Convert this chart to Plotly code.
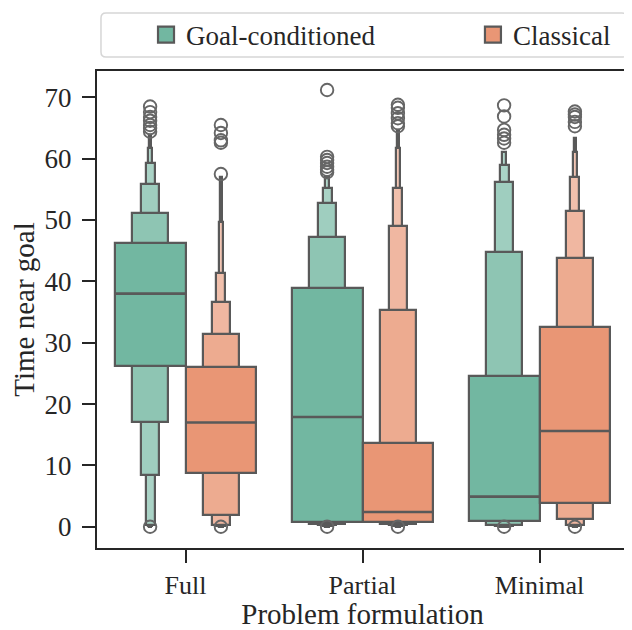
import plotly.graph_objects as go

categories = ["Full", "Partial", "Minimal"]
hues = ["Goal-conditioned", "Classical"]

# letter-value levels (outermost box first)
full_goal_lo = [26.2, 17.1, 8.4, 0.3, 0.1, 0.0]
full_goal_hi = [46.2, 51.2, 55.9, 59.3, 61.7, 63.9]
full_goal_med = 38.0
full_goal_out = [68.5, 67.6, 66.8, 66.2, 65.5, 65.0, 64.4, 0.0]

full_cls_lo = [8.8, 1.9, 0.3, 0.1, 0.0, 0.0]
full_cls_hi = [26.0, 31.5, 36.7, 41.4, 49.7, 57.1]
full_cls_med = 17.0
full_cls_out = [65.5, 64.2, 63.0, 62.6, 57.5, 0.0]

part_goal_lo = [0.7, 0.4, 0.2, 0.1, 0.0]
part_goal_hi = [38.9, 47.2, 52.7, 55.3, 57.0]
part_goal_med = 17.9
part_goal_out = [71.2, 60.3, 59.8, 59.3, 58.7, 58.2, 57.8, 0.0]

part_cls_lo = [0.8, 0.4, 0.2, 0.1, 0.0, 0.0]
part_cls_hi = [13.6, 35.4, 49.1, 55.3, 61.7, 64.7]
part_cls_med = 2.4
part_cls_out = [68.8, 68.3, 67.4, 66.6, 65.8, 65.3, 0.0]

min_goal_lo = [1.0, 0.3, 0.1, 0.0, 0.0]
min_goal_hi = [24.6, 44.8, 56.2, 59.0, 61.1]
min_goal_med = 4.9
min_goal_out = [68.7, 66.9, 64.7, 63.9, 63.3, 62.6, 0.0]

min_cls_lo = [3.8, 1.2, 0.3, 0.1, 0.0, 0.0]
min_cls_hi = [32.6, 43.8, 51.5, 57.1, 61.1, 63.3]
min_cls_med = 15.6
min_cls_out = [67.7, 67.2, 66.8, 66.0, 65.3, 0.0]

groups = [
    (0, 0, full_goal_lo, full_goal_hi, full_goal_med, full_goal_out),
    (0, 1, full_cls_lo, full_cls_hi, full_cls_med, full_cls_out),
    (1, 0, part_goal_lo, part_goal_hi, part_goal_med, part_goal_out),
    (1, 1, part_cls_lo, part_cls_hi, part_cls_med, part_cls_out),
    (2, 0, min_goal_lo, min_goal_hi, min_goal_med, min_goal_out),
    (2, 1, min_cls_lo, min_cls_hi, min_cls_med, min_cls_out),
]

main_rgb = [(114, 183, 161), (233, 150, 117)]
light_t = [0.0, 0.2, 0.32, 0.4, 0.46, 0.5]
edge = "#595959"
offsets = [-0.2, 0.2]
full_w = 0.4

def level_color(h, k):
    t = light_t[min(k, len(light_t) - 1)]
    r, g, b = main_rgb[h]
    return "rgb(%d,%d,%d)" % (r + (255 - r) * t, g + (255 - g) * t, b + (255 - b) * t)

fig = go.Figure()
for ci, h, lo, hi, med, out in groups:
    pos = ci + offsets[h]
    n = len(lo)
    for k in range(n - 1, -1, -1):
        w = full_w * 0.5 ** k
        fig.add_trace(go.Bar(
            x=[pos], base=[lo[k]], y=[hi[k] - lo[k]], width=[w],
            marker=dict(color=level_color(h, k), line=dict(color=edge, width=2.2)),
            name=hues[h], showlegend=False, hoverinfo="skip"))
    fig.add_trace(go.Scatter(
        x=[pos - full_w / 2, pos + full_w / 2], y=[med, med], mode="lines",
        line=dict(color=edge, width=2.6), showlegend=False, hoverinfo="skip"))
    fig.add_trace(go.Scatter(
        x=[pos] * len(out), y=out, mode="markers",
        marker=dict(symbol="circle-open", size=12.5, color="#666666", line=dict(width=1.9)),
        showlegend=False, hoverinfo="skip"))

# legend entries (one legend per hue, sharing one frame)
for h, lg in enumerate(["legend", "legend2"]):
    fig.add_trace(go.Scatter(
        x=[None], y=[None], mode="markers", name=hues[h], legend=lg,
        marker=dict(symbol="square", size=18, color=level_color(h, 0),
                    line=dict(color=edge, width=2.2)),
        showlegend=True, hoverinfo="skip"))

font = "Liberation Serif"
leg_common = dict(orientation="h", y=1.0755, xanchor="left", yanchor="middle",
                  borderwidth=0, bgcolor="rgba(0,0,0,0)", font=dict(size=27))

# rounded legend frame in paper coordinates
x0, x1, y0, y1 = 0.0075, 0.998, 1.0294, 1.1216
rx, ry = 0.0094, 0.0105
frame = (f"M{x0+rx},{y1} L{x1-rx},{y1} Q{x1},{y1} {x1},{y1-ry} L{x1},{y0+ry} "
         f"Q{x1},{y0} {x1-rx},{y0} L{x0+rx},{y0} Q{x0},{y0} {x0},{y0+ry} "
         f"L{x0},{y1-ry} Q{x0},{y1} {x0+rx},{y1} Z")

fig.update_layout(
    width=624, height=622,
    margin=dict(l=89, r=4, t=63, b=82, autoexpand=False),
    paper_bgcolor="white", plot_bgcolor="white",
    barmode="overlay", bargap=0,
    font=dict(family=font, size=24, color="#262626"),
    legend=dict(x=0.0923, **leg_common),
    legend2=dict(x=0.708, **leg_common),
    shapes=[dict(type="path", xref="paper", yref="paper", path=frame,
                 line=dict(color="#d6d6d6", width=1.5), fillcolor="white", layer="below")],
)
fig.update_xaxes(
    range=[-0.5, 2.5], tickmode="array", tickvals=[0, 1, 2], ticktext=categories,
    showline=True, mirror=True, linecolor="#262626", linewidth=2.2,
    ticks="outside", ticklen=13, tickwidth=2.2, tickcolor="#262626",
    tickfont=dict(size=26), ticklabelstandoff=0,
    showgrid=False, zeroline=False,
    title=dict(text="Problem formulation", standoff=7),
)
fig.update_yaxes(
    range=[-3.47, 74.3], tickmode="array", tickvals=[0, 10, 20, 30, 40, 50, 60, 70],
    showline=True, mirror=True, linecolor="#262626", linewidth=2.2,
    ticks="outside", ticklen=13, tickwidth=2.2, tickcolor="#262626",
    tickfont=dict(size=27), ticklabelstandoff=5,
    showgrid=False, zeroline=False,
    title=dict(text="Time near goal", standoff=8),
)
fig.write_html("out.html")
